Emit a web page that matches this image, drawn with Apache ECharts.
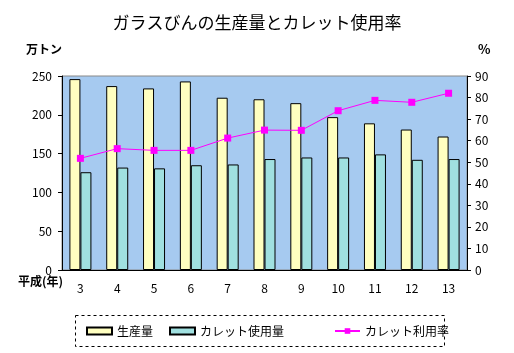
<!DOCTYPE html>
<html>
<head>
<meta charset="utf-8">
<script src="https://cdn.jsdelivr.net/npm/echarts@6/dist/echarts.min.js"></script>
<style>
  html, body { margin: 0; padding: 0; background: #fff; }
  #chart { width: 514px; height: 353px; }
</style>
</head>
<body>
<div id="chart"></div>
<script>
// data
const years = ['3', '4', '5', '6', '7', '8', '9', '10', '11', '12', '13'];
const production = [246, 237, 234, 243, 222, 220, 215, 197, 189, 181, 172];
const culletUse = [126, 132, 131, 135, 136, 143, 145, 145, 149, 142, 143];
const culletRate = [51.8, 56.3, 55.5, 55.5, 61.2, 64.9, 64.8, 73.9, 78.7, 77.8, 82.0];

const FONT = '"Noto Sans CJK JP", "DejaVu Sans", sans-serif';
const txt = { fontFamily: FONT, fontSize: 12, color: '#000' };

const chart = echarts.init(document.getElementById('chart'), null, { renderer: 'canvas' });

chart.setOption({
  animation: false,
  backgroundColor: '#fff',
  title: {
    text: 'ガラスびんの生産量とカレット使用率',
    left: 'center',
    top: 9,
    textStyle: { fontFamily: FONT, fontSize: 17, fontWeight: 'normal', color: '#000' }
  },
  grid: {
    left: 62, right: 47, top: 76, bottom: 83,
    show: true, backgroundColor: '#A6CAF0', borderColor: '#888', borderWidth: 1
  },
  legend: [
    { data: [{ name: '生産量', icon: 'rect' }], left: 81, top: 320 },
    { data: [{ name: 'カレット使用量', icon: 'rect' }], left: 164, top: 320 },
    { data: ['カレット利用率'], left: 329, top: 320 }
  ].map(l => Object.assign(l, {
    itemWidth: 25, itemHeight: 7, itemGap: 4,
    textStyle: Object.assign({}, txt, { fontSize: 12 })
  })),
  xAxis: {
    type: 'category',
    data: years,
    axisLine: { lineStyle: { color: '#000' } },
    axisTick: { inside: true, length: 4, lineStyle: { color: '#000' } },
    axisLabel: Object.assign({}, txt, { margin: 12 })
  },
  yAxis: [
    {
      type: 'value', min: 0, max: 250, interval: 50,
      axisLine: { show: true, lineStyle: { color: '#000' } },
      axisTick: { show: true, length: 4, lineStyle: { color: '#000' } },
      splitLine: { show: false },
      axisLabel: Object.assign({}, txt, { margin: 10 })
    },
    {
      type: 'value', min: 0, max: 90, interval: 10,
      axisLine: { show: true, lineStyle: { color: '#000' } },
      axisTick: { show: true, length: 4, lineStyle: { color: '#000' } },
      splitLine: { show: false },
      axisLabel: Object.assign({}, txt, { margin: 8 })
    }
  ],
  series: [
    {
      name: '生産量', type: 'bar', data: production,
      barWidth: 11, barGap: '0%',
      itemStyle: { color: '#FFFFC0', borderColor: '#000', borderWidth: 1 }
    },
    {
      name: 'カレット使用量', type: 'bar', data: culletUse,
      barWidth: 11, barGap: '0%',
      itemStyle: { color: '#A0E0E0', borderColor: '#000', borderWidth: 1 }
    },
    {
      name: 'カレット利用率', type: 'line', yAxisIndex: 1, data: culletRate,
      symbol: 'rect', symbolSize: 7,
      lineStyle: { color: '#FF00FF', width: 1 },
      itemStyle: { color: '#FF00FF' }
    }
  ],
  graphic: [
    { type: 'text', left: 26, top: 43, style: { text: '万トン', font: 'bold 12px ' + FONT, fill: '#000' } },
    { type: 'text', left: 478, top: 43, style: { text: '%', font: 'bold 13px ' + FONT, fill: '#000' } },
    { type: 'text', left: 18, top: 275, style: { text: '平成(年)', font: 'bold 12px ' + FONT, fill: '#000' } },
    {
      type: 'rect', left: 73, top: 313, silent: true,
      shape: { width: 369, height: 31 },
      style: { fill: 'none', stroke: '#000', lineWidth: 1, lineDash: [3, 3] }
    }
  ]
});
</script>
</body>
</html>
